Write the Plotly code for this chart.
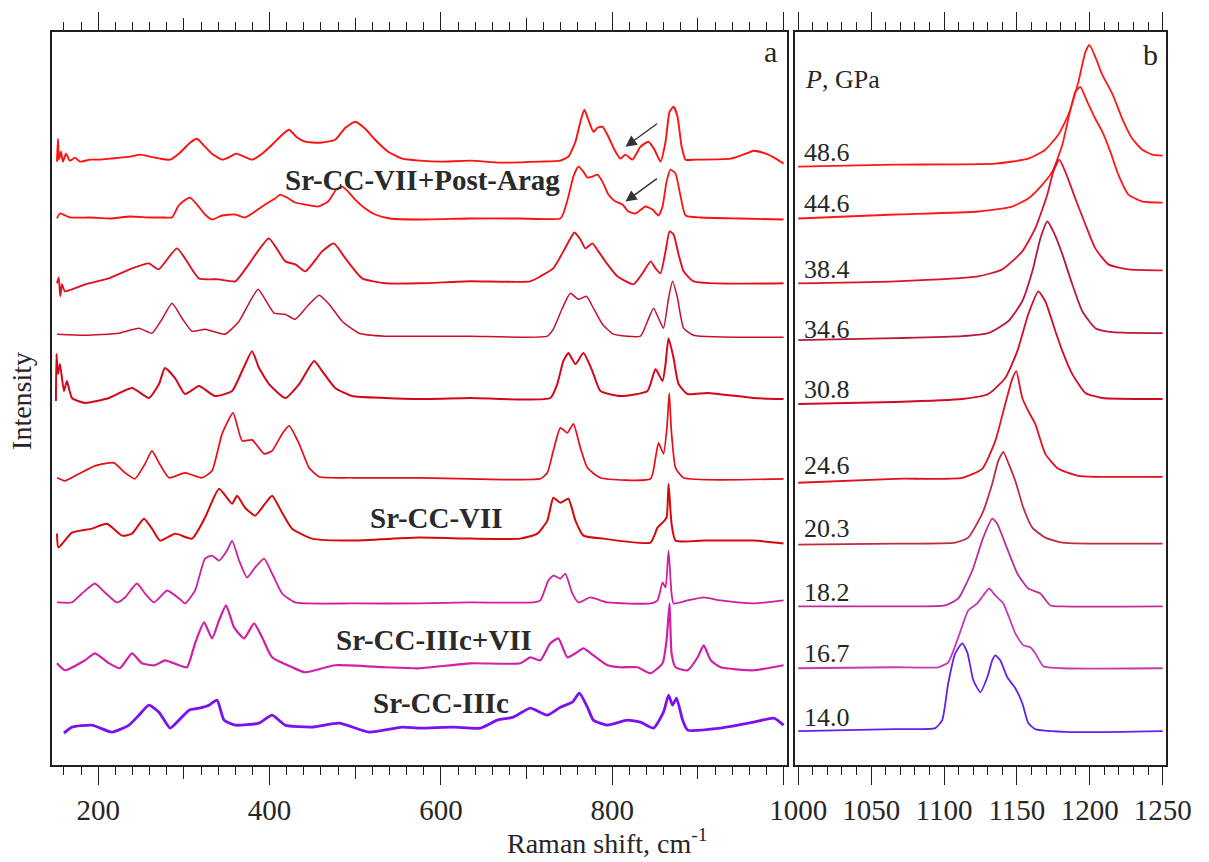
import plotly.graph_objects as go

FONT = "Liberation Serif, Times New Roman, serif"
TXT = "#262626"
AXC = "#202020"

PRESSURES = ["48.6", "44.6", "38.4", "34.6", "30.8", "24.6", "20.3", "18.2", "16.7", "14.0"]
COLORS_A = ["#FF1010", "#FF1010", "#E2101E", "#C8102E", "#D4061A", "#E80C16", "#D40A0A", "#D01E9E", "#D020A8", "#7A12F0"]
COLORS_B = ["#FF1818", "#FF1818", "#D8142A", "#B8183A", "#D00C22", "#E0101E", "#BE2C40", "#B8309C", "#C43AB4", "#6420EC"]
WIDTHS_A = [1.9, 1.8, 1.9, 1.5, 2.0, 1.7, 2.0, 1.8, 2.2, 2.8]

# ---- panel a: (Raman shift cm-1, stacked intensity a.u.) ----
a486 = [(151.8,605),(152.9,628),(154.1,607),(156.4,615),(158.8,605),(162.3,613),(166.9,606),(172.8,609),(178.6,605),
        (190.3,607),(202.0,607),(213.7,608),(237.0,610),(248.7,612),(260.4,610),(272.1,608),(283.8,607),(295.4,614),
        (307.1,624),(315.3,628),(324.6,620),(332.8,613),(344.5,607),(353.9,610),(360.9,613),(370.2,610),(379.5,607),
        (391.2,613),(402.9,622),(414.6,632),(422.8,637),(431.0,630),(441.5,625),(459.0,624),(476.5,627),(488.5,639),
        (499.9,645),(511.6,638),(523.2,627),(538.4,615),(554.8,608),(575.8,606),(599.2,605),(634.2,606),(669.3,604),
        (716.0,605),(739.4,606),(748.8,610),(757.0,625),(762.8,645),(767.4,657),(772.1,647),(778.0,635),(782.7,639),
        (788.5,640),(795.5,630),(802.5,617),(809.5,608),(815.4,612),(823.6,607),(833.0,620),(842.3,625),(849.3,617),
        (856.3,605),(862.2,625),(866.9,655),(871.6,660),(876.2,650),(881.0,620),(885.6,607),(897.3,607),(938.3,608),
        (955.8,613),(965.2,616),(979.2,613),(990.9,608),(1000,603)]
a446 = [(151.8,548),(155.3,553),(166.9,549),(190.3,549),(213.7,548),(237.0,550),(260.4,549),(278.0,549),(286.1,549),
        (293.1,560),(298.9,565),(307.1,569),(315.3,562),(324.6,552),(332.8,547),(344.5,551),(359.7,552),(371.4,549),
        (383.0,555),(394.7,562),(406.4,568),(412.3,572),(420.4,569),(429.8,564),(441.5,562),(456.6,560),(468.3,565),
        (477.7,577),(484.7,580),(491.7,575),(499.9,567),(511.6,558),(523.2,552),(540.8,548),(575.8,547),(634.2,548),
        (692.6,548),(739.4,548),(742.9,553),(748.8,570),(754.6,590),(760.4,600),(766.3,595),(771.0,589),(776.8,590),
        (782.7,592),(788.5,585),(795.5,572),(803.7,565),(811.9,562),(818.9,555),(827.1,553),(838.8,560),(847.0,557),
        (854.0,551),(858.7,560),(863.4,585),(868.0,597),(873.9,593),(879.8,570),(885.6,551),(903.2,549),(950.0,548),
        (1000,547)]
a384 = [(151.8,483),(153.8,489),(155.7,470),(157.6,482),(161.1,475),(184.9,482),(212.1,488),(239.4,498),(258.9,503),
        (270.5,497),(291.9,518),(317.3,488),(340.6,487),(360.0,485),(375.7,502),(399.1,528),(418.4,505),(430.1,502),
        (441.8,495),(461.3,515),(475.0,523),(488.5,508),(508.0,488),(535.3,483),(574.3,483),(634.2,485),(704.3,485),
        (716.0,490),(731.2,498),(742.9,515),(751.1,528),(755.8,534),(762.8,527),(768.6,518),(776.8,523),(783.8,515),
        (794.4,502),(806.0,490),(824.8,482),(835.3,493),(844.7,505),(850.5,498),(856.3,493),(862.2,515),(866.9,535),
        (871.6,532),(877.4,512),(883.3,495),(895.0,485),(1000,483)]
a346 = [(151.8,432),(184.5,431),(224.2,433),(247.5,438),(262.7,433),(274.4,447),(286.1,463),(297.8,448),(309.5,435),
        (324.6,437),(348.0,432),(364.4,445),(377.2,465),(386.6,477),(394.7,467),(405.3,453),(418.1,452),(429.8,447),
        (446.1,462),(457.8,471),(469.5,462),(484.7,445),(504.5,433),(534.9,430),(574.6,430),(634.2,430),(724.2,430),
        (731.2,437),(741.7,458),(751.1,473),(760.4,467),(769.8,470),(778.0,458),(788.5,442),(801.4,432),(833.0,430),
        (841.1,445),(848.2,458),(854.0,448),(859.8,438),(865.7,468),(870.4,485),(876.2,468),(883.3,438),(895.0,431),
        (1000,429)]
a308 = [(150.6,365),(151.2,412),(152.9,392),(155.3,402),(159.9,375),(163.4,385),(169.3,368),(184.5,363),(212.5,368),
        (239.4,378),(259.2,368),(270.9,382),(277.9,398),(289.6,388),(301.3,372),(317.6,380),(336.3,370),(356.2,375),
        (367.9,395),(379.5,415),(387.7,398),(399.4,382),(418.1,368),(434.5,382),(452.0,405),(461.3,395),(476.5,378),
        (496.4,370),(534.9,368),(574.6,367),(634.2,368),(727.7,368),(735.8,382),(742.9,405),(748.8,413),(757.0,402),
        (766.3,413),(776.8,395),(786.2,375),(809.5,370),(841.1,375),(850.5,397),(858.7,385),(862.2,402),(865.7,428),
        (871.6,408),(877.4,382),(888.0,372),(911.4,373),(965.2,368),(1000,367)]
a246 = [(151.8,288),(161.1,285),(177.5,292),(196.1,300),(218.3,303),(231.2,293),(242.9,287),(254.6,302),(262.7,315),
        (270.9,303),(282.6,288),(301.3,293),(321.1,288),(332.8,295),(344.5,332),(357.4,353),(367.9,325),(379.5,326),
        (393.6,312),(402.9,315),(414.6,332),(422.8,340),(434.5,322),(446.1,298),(457.8,289),(496.4,288),(574.6,288),
        (634.2,287),(716.0,287),(724.2,293),(731.2,315),(739.4,338),(747.6,333),(754.6,342),(762.8,318),(771.0,298),
        (786.2,288),(844.7,287),(850.5,308),(854.0,323),(859.8,312),(864.0,340),(866.5,373),(869.0,335),(873.9,298),
        (883.3,288),(1000,287)]
a203 = [(151.8,232),(153.5,218),(169.3,233),(192.6,237),(210.2,242),(227.7,230),(239.4,232),(253.4,247),(262.7,237),
        (272.1,225),(289.6,232),(309.5,227),(324.6,248),(341.0,277),(356.2,262),(362.0,270),(371.4,258),(383.0,250),
        (394.7,262),(402.9,270),(414.6,253),(426.3,237),(449.6,227),(496.4,225),(574.6,228),(634.2,227),(692.6,227),
        (712.5,232),(724.2,245),(731.2,268),(739.4,263),(748.8,267),(757.0,245),(766.3,230),(789.7,227),(844.7,223),
        (852.8,238),(858.7,243),(863.4,248),(865.7,282),(869.2,242),(873.9,225),(906.7,225),(965.2,225),(1000,222)]
a182 = [(151.8,163),(169.3,163),(181.0,172),(196.1,182),(207.8,173),(221.8,163),(231.2,168),(245.2,182),(254.6,172),
        (265.1,163),(280.3,175),(294.3,167),(301.3,162),(313.0,175),(324.6,207),(332.8,210),(341.0,205),(350.3,215),
        (356.2,225),(364.4,205),(373.7,188),(383.0,198),(393.6,207),(402.9,192),(414.6,172),(429.8,163),(496.4,162),
        (574.6,162),(634.2,163),(707.8,163),(716.0,165),(725.4,185),(731.2,190),(739.4,187),(745.2,192),(753.4,172),
        (760.4,163),(774.5,168),(794.4,163),(844.7,162),(852.8,165),(858.7,183),(862.2,178),(865.7,215),(869.2,172),
        (871.6,162),(888.0,165),(906.7,168),(926.6,165),(965.2,162),(1000,165)]
a167 = [(151.8,102),(161.1,95),(184.5,105),(196.1,112),(212.5,102),(225.3,97),(239.4,112),(251.0,102),(266.2,100),
        (277.9,105),(294.3,100),(303.6,98),(313.0,122),(323.5,143),(332.8,127),(341.0,145),(349.2,160),(358.5,138),
        (370.2,127),(381.9,142),(391.2,128),(402.9,108),(426.3,98),(441.5,93),(476.5,100),(534.9,98),(574.6,97),
        (634.2,102),(692.6,102),(704.3,108),(716.0,105),(727.7,122),(737.1,127),(747.6,108),(757.0,112),(766.3,117),
        (778.0,110),(794.4,100),(809.5,98),(829.4,98),(844.7,92),(858.7,102),(863.4,125),(866.9,162),(869.2,112),
        (873.9,98),(888.0,95),(899.7,108),(906.7,120),(914.9,105),(926.6,98),(965.2,95),(1000,100)]
a140 = [(159.9,32),(169.3,38),(192.6,40),(216.0,33),(235.9,40),(247.5,50),(259.2,60),(270.9,53),(283.8,37),(294.3,45),
        (306.0,55),(317.6,57),(329.3,60),(338.7,65),(346.8,45),(359.7,40),(387.7,42),(402.9,50),(418.1,40),(449.6,38),
        (481.2,42),(516.2,33),(554.8,38),(574.6,37),(614.4,38),(645.9,37),(665.8,45),(684.5,48),(704.3,57),(724.2,50),
        (739.4,58),(753.4,63),(761.6,72),(771.0,58),(778.0,45),(794.4,40),(817.7,45),(833.0,43),(848.2,37),(859.8,53),
        (865.7,70),(870.4,60),(875.1,67),(882.1,45),(888.0,35),(926.6,37),(965.2,43),(988.5,47),(1000,40)]

# ---- panel b: (Raman shift cm-1, stacked intensity a.u.) ----
b486 = [(1000,600),(1066.5,602),(1135.2,603),(1157.8,608),(1169.5,617),(1178.4,632),(1185.3,652),(1192.2,685),
        (1197.0,715),(1199.7,722),(1203.8,710),(1208.6,692),(1215.5,673),(1222.3,648),(1229.2,628),(1236.1,617),
        (1243.0,612),(1250,611)]
b446 = [(1000,548),(1066.5,552),(1123.5,555),(1146.8,560),(1157.8,568),(1167.5,582),(1174.3,595),(1181.2,622),
        (1185.3,648),(1190.1,675),(1193.5,680),(1198.3,665),(1203.8,648),(1208.6,635),(1214.1,615),(1219.6,592),
        (1226.5,572),(1236.1,565),(1250,564)]
b384 = [(1000,483),(1066.5,485),(1123.5,490),(1140.0,497),(1153.7,515),(1162.6,538),(1170.9,572),(1175.0,595),
        (1179.1,607),(1183.2,595),(1190.1,568),(1197.0,542),(1203.8,518),(1212.8,502),(1226.5,497),(1250,496)]
b346 = [(1000,426),(1066.5,428),(1112.5,430),(1130.4,433),(1144.1,445),(1153.7,465),(1160.6,495),(1166.1,528),
        (1170.9,545),(1175.0,535),(1181.2,512),(1188.0,482),(1194.9,455),(1203.8,438),(1215.5,434),(1250,433)]
b308 = [(1000,362),(1066.5,364),(1112.5,367),(1130.4,372),(1142.0,388),(1150.3,415),(1157.8,452),(1164.7,475),
        (1169.5,465),(1176.4,435),(1181.2,415),(1188.0,392),(1197.0,373),(1208.6,368),(1250,367)]
b246 = [(1000,283),(1066.5,287),(1112.5,288),(1126.2,297),(1135.2,325),(1142.0,362),(1146.8,387),(1149.6,395),
        (1153.7,368),(1157.8,355),(1162.6,342),(1169.5,312),(1178.4,297),(1192.2,290),(1250,289)]
b203 = [(1000,221),(1066.5,222),(1107.7,223),(1116.6,228),(1126.2,252),(1133.1,282),(1137.2,305),(1140.7,314),
        (1144.1,303),(1148.9,285),(1154.4,258),(1160.6,238),(1169.5,228),(1181.2,223),(1250,222)]
b182 = [(1000,159),(1066.5,159),(1100.8,160),(1109.8,167),(1119.4,195),(1126.9,228),(1133.1,247),(1136.5,242),
        (1142.0,222),(1150.3,192),(1157.8,177),(1166.1,172),(1173.0,160),(1181.2,159),(1250,159)]
b167 = [(1000,97),(1066.5,98),(1096.1,98),(1102.9,103),(1109.8,128),(1116.6,155),(1122.8,162),(1126.9,170),
        (1131.0,177),(1135.2,170),(1140.7,162),(1148.9,132),(1154.4,120),(1159.2,118),(1162.6,112),(1168.2,99),
        (1181.2,97),(1250,97)]
b140 = [(1000,34),(1066.5,36),(1094.0,37),(1098.8,45),(1102.9,82),(1107.7,112),(1112.5,122),(1116.0,113),
        (1120.1,85),(1124.9,73),(1129.7,88),(1133.1,105),(1135.2,110),(1138.6,105),(1143.4,88),(1148.9,77),
        (1153.7,62),(1157.8,42),(1162.6,36),(1188.0,33),(1250,34)]

SPECTRA_A = [a486, a446, a384, a346, a308, a246, a203, a182, a167, a140]
SPECTRA_B = [b486, b446, b384, b346, b308, b246, b203, b182, b167, b140]

# label positions for the pressure values (intensity units, panel b)
LABEL_Y_B = [614, 563, 497, 437, 377, 300, 237, 173, 112, 48]

PHASES = ["Sr-CC-VII+Post-Arag", "Sr-CC-VII", "Sr-CC-IIIc+VII", "Sr-CC-IIIc"]
PHASE_X = [578, 595, 592, 600]
PHASE_Y = [587, 248, 125, 62]

fig = go.Figure()
for p, pts, col, w in zip(PRESSURES, SPECTRA_A, COLORS_A, WIDTHS_A):
    xs, ys = zip(*pts)
    fig.add_trace(go.Scatter(x=xs, y=ys, mode="lines", name=p + " GPa", hoverinfo="skip",
                             line=dict(color=col, width=w, shape="spline", smoothing=0.5),
                             xaxis="x", yaxis="y"))
for p, pts, col in zip(PRESSURES, SPECTRA_B, COLORS_B):
    xs, ys = zip(*pts)
    fig.add_trace(go.Scatter(x=xs, y=ys, mode="lines", name=p + " GPa", hoverinfo="skip",
                             line=dict(color=col, width=1.8, shape="spline", smoothing=0.5),
                             xaxis="x2", yaxis="y2"))
# carrier for the medium ticks of panel a
fig.add_trace(go.Scatter(x=[None], y=[None], xaxis="x3", yaxis="y", showlegend=False, hoverinfo="skip"))

tickfont = dict(family=FONT, size=29, color=TXT)
xcommon = dict(showline=True, linecolor=AXC, linewidth=1.5, mirror="ticks", ticks="outside",
               tickcolor=AXC, tickwidth=1.3, ticklen=18, showgrid=False, zeroline=False,
               tickfont=tickfont, tickmode="linear", tick0=0)
ycommon = dict(showline=True, linecolor=AXC, linewidth=1.5, mirror=True, ticks="",
               showticklabels=False, showgrid=False, zeroline=False, range=[0, 735], domain=[0, 1])

fig.update_layout(
    width=1209, height=862,
    margin=dict(l=52, r=43, t=30, b=97),
    paper_bgcolor="white", plot_bgcolor="white",
    showlegend=False,
    font=dict(family=FONT, color=TXT),
    xaxis=dict(domain=[0, 0.6598], range=[146, 1004], dtick=200, anchor="y",
               labelalias={"1000": " "},
               minor=dict(dtick=20, tick0=0, ticks="outside", ticklen=8, tickcolor=AXC, tickwidth=1.3),
               **xcommon),
    xaxis3=dict(overlaying="x", anchor="y", range=[146, 1004], tickmode="linear", tick0=100, dtick=200,
                ticks="outside", ticklen=13, tickcolor=AXC, tickwidth=1.3, mirror="ticks",
                showline=False, showticklabels=False, showgrid=False, zeroline=False),
    yaxis=dict(anchor="x", **ycommon),
    xaxis2=dict(domain=[0.667, 1], range=[997.8, 1252.3], dtick=50, anchor="y2",
                minor=dict(dtick=10, tick0=0, ticks="outside", ticklen=8, tickcolor=AXC, tickwidth=1.3),
                **xcommon),
    yaxis2=dict(anchor="x2", **ycommon),
)

ann = []
for t, x, y in zip(PHASES, PHASE_X, PHASE_Y):
    ann.append(dict(text="<b>" + t + "</b>", x=x, y=y, xref="x", yref="y", showarrow=False,
                    font=dict(family=FONT, size=29, color="#2a2a2a"), xanchor="center", yanchor="middle"))
for p, y in zip(PRESSURES, LABEL_Y_B):
    ann.append(dict(text=p, x=1002.6, y=y, xref="x2", yref="y2", showarrow=False,
                    font=dict(family=FONT, size=26, color=TXT), xanchor="left", yanchor="middle"))
ann.append(dict(text="<i>P</i>, GPa", x=1003.2, y=687, xref="x2", yref="y2", showarrow=False,
                font=dict(family=FONT, size=26, color=TXT), xanchor="left", yanchor="middle"))
ann.append(dict(text="a", x=984.4, y=715, xref="x", yref="y", showarrow=False,
                font=dict(family=FONT, size=30, color=TXT), xanchor="center", yanchor="middle"))
ann.append(dict(text="b", x=1241.6, y=712, xref="x2", yref="y2", showarrow=False,
                font=dict(family=FONT, size=30, color=TXT), xanchor="center", yanchor="middle"))
# arrows pointing at the post-aragonite shoulders
for yh in (620, 565):
    ann.append(dict(text="", x=815.4, y=yh, xref="x", yref="y", showarrow=True, ax=33, ay=-24,
                    arrowhead=2, arrowsize=1.6, arrowwidth=1.4, arrowcolor="#333333", standoff=0))
# axis titles
ann.append(dict(text="Intensity", x=-0.027, y=0.4966, xref="paper", yref="paper", showarrow=False,
                textangle=-90, font=dict(family=FONT, size=28, color=TXT), xanchor="center", yanchor="middle"))
ann.append(dict(text="Raman shift, cm<sup>-1</sup>", x=0.499, y=-0.1048, xref="paper", yref="paper",
                showarrow=False, font=dict(family=FONT, size=28, color=TXT), xanchor="center", yanchor="middle"))
fig.update_layout(annotations=ann)

fig.write_html("out.html")
